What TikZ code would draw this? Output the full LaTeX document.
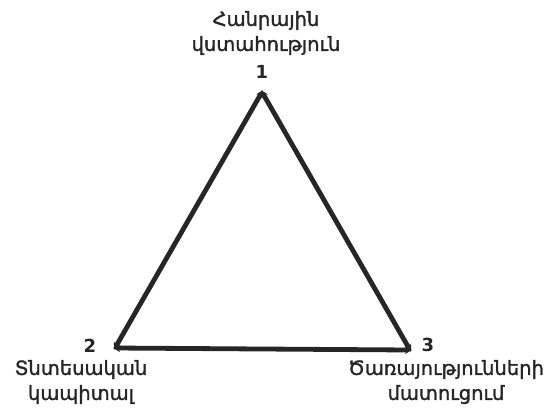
\documentclass[tikz,border=0pt]{standalone}
\usepackage{fontspec}
\setmainfont{DejaVu Sans}
\newfontfamily\lblfont[FakeBold=1.6]{DejaVu Sans}
\usetikzlibrary{arrows.meta}
\begin{document}
\begin{tikzpicture}[x=1pt,y=-1pt,
  lbl/.style={font=\lblfont\fontsize{19.5}{25}\selectfont, text=black!85, align=center, inner sep=0pt},
  num/.style={font=\fontsize{18}{20}\selectfont\bfseries, text=black!85, inner sep=0pt},
  edge/.style={line width=4.8pt, draw=black!85, {Stealth[length=7pt,width=8pt]}-{Stealth[length=7pt,width=8pt]}, shorten >=-2pt, shorten <=-2pt}]
\useasboundingbox (0,0) rectangle (552,408);
\coordinate (v1) at (262,92);
\coordinate (v2) at (115,348);
\coordinate (v3) at (410,350);
\draw[edge] (v2) -- (v1);
\draw[edge] (v1) -- (v3);
\draw[edge] (v2) -- (v3);
\node[num] (n1) at (262,72) {1};
\node[num] (n2) at (90,346) {2};
\node[num] (n3) at (428,345) {3};
\node[lbl] (t1) at (266,33) {Հանրային\\վստահություն};
\node[lbl] (t2) at (81,382) {Տնտեսական\\կապիտալ};
\node[lbl] (t3) at (446,382) {Ծառայությունների\\մատուցում};
\end{tikzpicture}
\end{document}
